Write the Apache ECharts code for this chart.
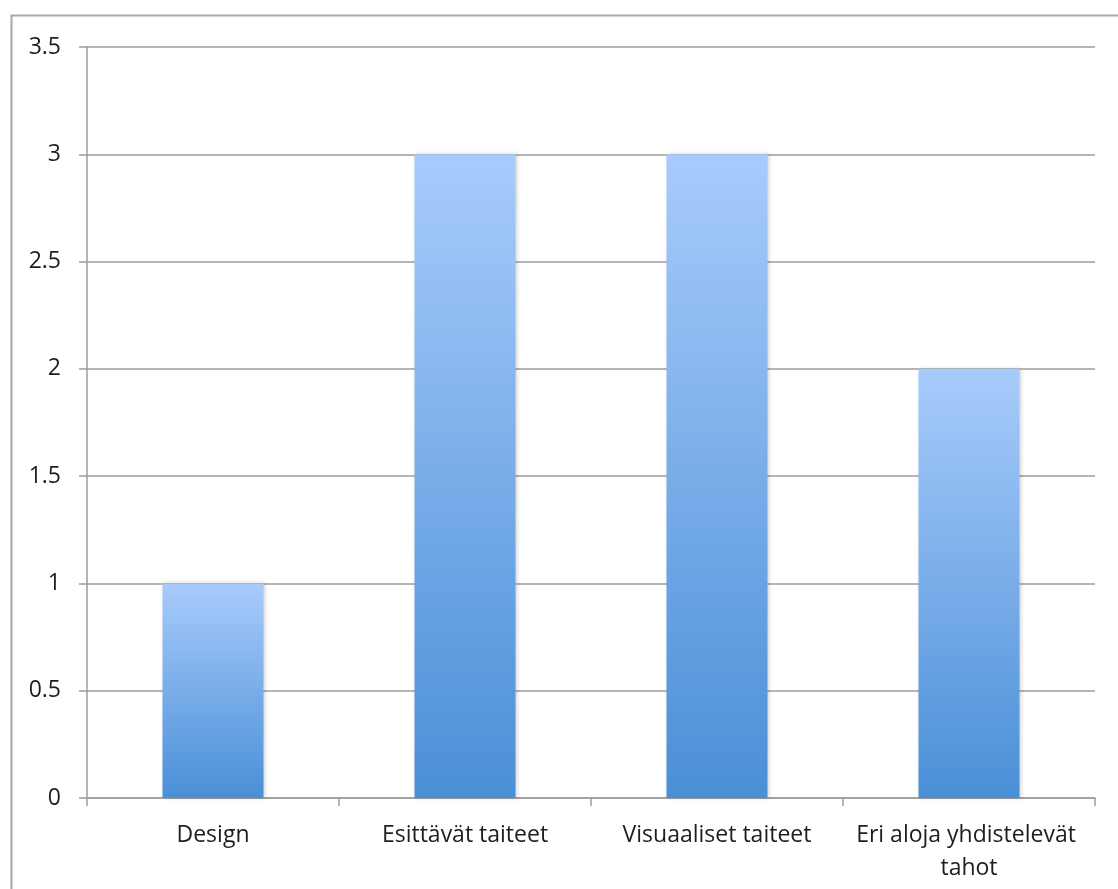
<!DOCTYPE html>
<html>
<head>
<meta charset="utf-8">
<script src="https://cdn.jsdelivr.net/npm/echarts@6/dist/echarts.min.js"></script>
<style>
  html, body { margin: 0; padding: 0; background: #ffffff; }
  #chart { width: 1118px; height: 889px; }
</style>
</head>
<body>
<div id="chart"></div>
<script>
// Categories and counts
const categories = ['Design', 'Esittävät taiteet', 'Visuaaliset taiteet', 'Eri aloja yhdistelevät tahot'];
const counts = [1, 3, 3, 2];
const yMin = 0;
const yMax = 3.5;
const yStep = 0.5;

const chart = echarts.init(document.getElementById('chart'), null, { renderer: 'canvas' });

const axisGray = '#9c9c9c';
const labelFont = '"Open Sans", "Noto Sans", sans-serif';

chart.setOption({
  animation: false,
  backgroundColor: '#ffffff',
  graphic: [{
    type: 'rect',
    left: 9,
    top: 13,
    shape: { width: 1200, height: 1000 },
    style: { fill: 'none', stroke: '#a8a8a8', lineWidth: 2 },
    silent: true
  }],
  grid: { left: 87, right: 23, top: 47, bottom: 91, containLabel: false },
  xAxis: {
    type: 'category',
    data: categories,
    axisLine: { show: true, lineStyle: { color: axisGray, width: 1.5 } },
    axisTick: { show: true, length: 8, alignWithLabel: false, lineStyle: { color: axisGray, width: 1.5 } },
    axisLabel: {
      interval: 0,
      margin: 21,
      color: '#1e1e1e',
      fontFamily: labelFont,
      fontSize: 23,
      lineHeight: 33,
      width: 245,
      overflow: 'break'
    }
  },
  yAxis: {
    type: 'value',
    min: yMin,
    max: yMax,
    interval: yStep,
    axisLine: { show: true, lineStyle: { color: axisGray, width: 1.5 } },
    axisTick: { show: true, length: 8, lineStyle: { color: axisGray, width: 1.5 } },
    splitLine: { show: true, lineStyle: { color: axisGray, width: 1.5 } },
    axisLabel: {
      margin: 26,
      color: '#1e1e1e',
      fontFamily: labelFont,
      fontSize: 23
    }
  },
  series: [{
    type: 'bar',
    data: counts,
    barWidth: 101,
    itemStyle: {
      color: new echarts.graphic.LinearGradient(0, 0, 0, 1, [
        { offset: 0, color: '#a8cbfb' },
        { offset: 1, color: '#4a8fd7' }
      ]),
      shadowColor: 'rgba(0,0,0,0.18)',
      shadowBlur: 4,
      shadowOffsetX: 1,
      shadowOffsetY: 0
    }
  }]
});
</script>
</body>
</html>
